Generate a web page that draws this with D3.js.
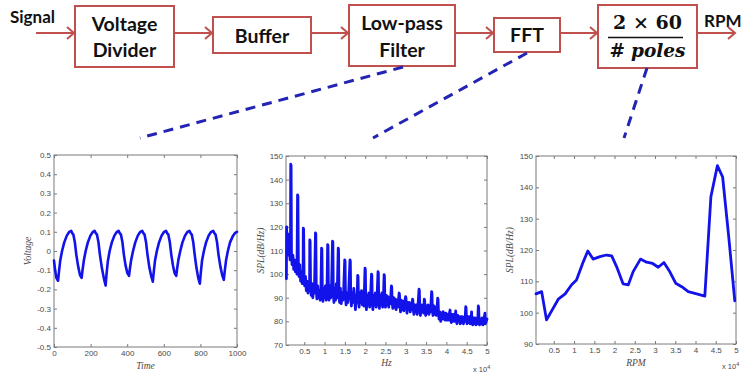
<!DOCTYPE html>
<html><head><meta charset="utf-8">
<script src="https://cdn.jsdelivr.net/npm/d3@7"></script>
<style>body{margin:0;background:#fff}svg{display:block}</style>
</head><body><svg id="c" width="748" height="375"></svg>
<script>
// ---------- Data ----------
const blockLabels = [["Voltage","Divider"],["Buffer"],["Low-pass","Filter"],["FFT"]];
const inputLabel = "Signal";
const outputLabel = "RPM";

const timeVals = [0,6,13,22,27,34,44,56,70,82,94,100,106,114,122,132,142,
 151,156,163,173,185,199,211,222,229,235,243,251,261,272,
 282,287,294,304,316,330,342,353,360,366,374,382,391,401,
 410,415,422,432,444,458,470,482,489,495,503,511,521,531,
 540,545,552,562,574,588,600,612,619,625,633,641,650,659,
 668,673,680,690,702,716,728,740,747,753,761,769,778,788,
 797,802,809,819,831,845,857,870,877,883,891,899,909,919,
 928,933,940,950,962,976,988,1000];
const voltageVals = [-0.05,-0.10,-0.14,-0.155,-0.11,-0.05,0.0,0.045,0.08,0.098,0.105,0.092,0.085,0.045,-0.02,-0.08,-0.125,
 -0.14,-0.10,-0.05,0.0,0.045,0.08,0.098,0.105,0.092,0.085,0.045,-0.02,-0.085,-0.14,
 -0.18,-0.12,-0.055,0.0,0.045,0.08,0.098,0.105,0.092,0.085,0.045,-0.02,-0.075,-0.115,
 -0.13,-0.09,-0.045,0.0,0.045,0.08,0.098,0.105,0.092,0.085,0.045,-0.02,-0.085,-0.13,
 -0.16,-0.11,-0.05,0.0,0.045,0.08,0.098,0.105,0.092,0.085,0.045,-0.02,-0.075,-0.115,
 -0.13,-0.09,-0.045,0.0,0.045,0.08,0.098,0.105,0.092,0.085,0.045,-0.02,-0.085,-0.14,
 -0.17,-0.115,-0.05,0.0,0.045,0.08,0.098,0.105,0.092,0.085,0.045,-0.02,-0.08,-0.125,
 -0.15,-0.105,-0.05,0.0,0.045,0.075,0.092,0.1];

// FFT spectrum: [Hz x 10^4, SPL dB/Hz]
const fftPoints = [
 [0.06,98],[0.065,120],[0.08,110],[0.10,117],[0.115,108],[0.13,112],[0.15,106],
 [0.16,110],[0.167,146.5],[0.175,146],[0.185,108],[0.20,104],[0.22,108],[0.24,102],[0.26,106],[0.28,101],[0.30,104],[0.32,100],
 [0.335,133.5],[0.343,133],[0.355,103],[0.37,99],[0.39,104],[0.41,97],[0.43,101],[0.45,96],[0.47,99],
 [0.476,119.5],[0.484,119],[0.495,100],[0.51,95],[0.53,99],[0.55,93],[0.57,97],[0.59,92],[0.61,96],[0.63,94],
 [0.636,114.5],[0.644,114],[0.655,95],[0.67,91],[0.69,96],[0.71,90],[0.73,94],[0.75,92],
 [0.776,117.5],[0.784,117],[0.795,94],[0.81,89.5],[0.83,95],[0.85,90],[0.87,93],[0.89,89],[0.91,94],
 [0.926,111],[0.934,110.5],[0.945,92],[0.96,88.5],[0.98,94],[1.00,90],[1.02,95],[1.04,89],[1.06,93],
 [1.076,112.5],[1.084,112],[1.095,93],[1.11,89],[1.13,95],[1.15,90],[1.17,93],
 [1.196,114],[1.204,113.5],[1.215,92],[1.23,88],[1.25,94],[1.27,89],[1.29,96],[1.31,90],
 [1.336,111],[1.344,110.5],[1.355,91],[1.37,88],[1.39,94],[1.41,87.5],[1.43,92],[1.45,89],[1.47,93],
 [1.496,106],[1.504,105.5],[1.515,90],[1.53,87],[1.55,92],[1.57,88],[1.59,91],
 [1.626,106],[1.634,105.5],[1.645,90],[1.66,86.5],[1.68,92],[1.70,88],[1.72,94],[1.74,90],[1.76,85],[1.78,91],[1.80,88],
 [1.816,99.5],[1.824,99],[1.835,89],[1.85,86],[1.87,92],[1.89,88],[1.91,93],[1.93,87],[1.95,91],[1.97,86.5],
 [1.996,102.5],[2.004,102],[2.015,88],[2.03,85],[2.05,91],[2.07,87],[2.09,92],[2.11,86],[2.13,90],
 [2.156,100],[2.164,99.5],[2.175,88],[2.19,85],[2.21,91],[2.23,87],[2.25,92],[2.27,86],[2.29,89],
 [2.316,101],[2.324,100.5],[2.335,88],[2.35,85.5],[2.37,91],[2.39,87],[2.41,92],[2.43,86],[2.45,90],
 [2.466,99.8],[2.474,99.3],[2.485,88],[2.50,86],[2.52,91],[2.54,87],[2.56,90.5],[2.58,86],[2.60,90],[2.62,87.5],
 [2.646,95],[2.654,94.5],[2.665,88],[2.68,85.5],[2.70,90],[2.72,86],[2.74,89.5],[2.76,85],[2.78,89],[2.80,86],[2.82,89],
 [2.836,92],[2.844,91.5],[2.855,87],[2.87,84],[2.89,89],[2.91,85],[2.93,88.5],[2.95,84.5],[2.97,88],
 [2.996,90.5],[3.004,90],[3.015,86],[3.03,83.5],[3.05,88],[3.07,85],[3.09,88],[3.11,84],[3.13,87.5],[3.15,85],
 [3.166,89.4],[3.174,89],[3.185,85],[3.20,83],[3.22,87],[3.24,84],[3.26,87],[3.28,83],[3.30,86.5],
 [3.326,93.6],[3.334,93],[3.345,85],[3.36,82.5],[3.38,87],[3.40,84],[3.42,87],[3.44,83.5],
 [3.456,89.4],[3.464,89],[3.475,85],[3.49,82.5],[3.51,86.5],[3.53,83.5],[3.55,87],[3.57,83],[3.59,86.5],[3.61,84],
 [3.636,92.6],[3.644,92],[3.655,85],[3.67,82.5],[3.69,86.5],[3.71,83],[3.73,86],[3.75,82.5],[3.77,86],
 [3.786,89.8],[3.794,89.3],[3.805,84],[3.82,81],[3.84,84],[3.86,80],[3.88,83.5],[3.90,81],
 [3.92,84.1],[3.93,81],[3.95,83.5],[3.97,80.5],[3.99,83.5],[4.01,80.5],[4.03,83],[4.05,80.5],[4.07,83],
 [4.09,84.8],[4.10,81],[4.12,79.5],[4.14,83],[4.16,80],[4.18,83],[4.20,80],
 [4.23,84.4],[4.24,80.5],[4.26,79],[4.28,82.5],[4.30,80],[4.32,82],[4.34,79],[4.36,82],[4.38,79.5],[4.40,82],[4.42,79],[4.44,81.5],[4.46,80],
 [4.476,86.2],[4.484,85.8],[4.495,80.5],[4.51,79],[4.53,82],[4.55,79.5],[4.57,82],[4.59,79],[4.61,81],
 [4.62,84],[4.63,80],[4.65,78.5],[4.67,81.5],[4.69,79],[4.71,81.5],[4.73,78.5],[4.75,81],[4.77,79],
 [4.786,86.5],[4.794,86],[4.805,80],[4.82,78.5],[4.84,81],[4.86,79],[4.88,81.5],[4.90,78.5],[4.92,80.5],
 [4.95,83.5],[4.96,79],[4.98,80],[5.0,81]
];

const rpmVals = [0.06,0.2,0.32,0.61,0.78,0.94,1.06,1.23,1.34,1.47,1.64,1.80,1.93,2.05,2.21,2.34,2.46,2.64,2.79,2.94,3.08,3.22,3.35,3.51,3.66,3.82,4.03,4.23,4.38,4.54,4.67,4.82,4.97];
const rpmSplVals = [106,106.7,97.7,104.3,106,108.9,110.4,116.3,119.7,117.1,117.9,118.4,118.1,114.7,109.2,108.9,113.1,117.1,116.1,115.7,114.5,116,113.4,109.4,108.3,106.7,106,105.3,137,146.9,143.3,124.3,103.8];

const timeTicks = [0,200,400,600,800,1000];
const voltTicks = [-0.5,-0.4,-0.3,-0.2,-0.1,0,0.1,0.2,0.3,0.4,0.5];
const voltTickLabels = ["-0.5","-0.4","-0.3","-0.2","-0.1","0","0.1","0.2","0.3","0.4","0.5"];
const e4Ticks = [0.5,1,1.5,2,2.5,3,3.5,4,4.5,5];
const fftTicks = [70,80,90,100,110,120,130,140,150];
const rpmSplTicks = [90,100,110,120,130,140,150];

// ---------- Drawing ----------
const svg = d3.select("#c");
const RED = "#C0504D", BLUE = "#1212ea", DASH = "#2323b4";
const SANS = "Lato, 'Open Sans', 'Liberation Sans', sans-serif";

// Block diagram
const boxes = [
 {x:75,y:6,w:99,h:61},
 {x:213,y:17,w:98,h:36},
 {x:349,y:5,w:106,h:61},
 {x:494,y:18,w:66,h:34},
 {x:598,y:5,w:99,h:63}
];
boxes.forEach(b=>{
  svg.append("rect").attr("x",b.x).attr("y",b.y).attr("width",b.w).attr("height",b.h)
   .attr("fill","#fff").attr("stroke",RED).attr("stroke-width",2);
});
const textLines = [[31,57],[43],[30,57],[42]];
blockLabels.forEach((lines,i)=>{
  const b = boxes[i];
  lines.forEach((t,j)=>{
    svg.append("text").attr("x",b.x+b.w/2).attr("y",textLines[i][j]).attr("text-anchor","middle")
     .attr("font-family",SANS).attr("font-weight","bold").attr("font-size",19.5).attr("fill","#111").text(t);
  });
});
// formula
const fb = boxes[4];
svg.append("text").attr("x",fb.x+fb.w/2).attr("y",29).attr("text-anchor","middle")
 .attr("font-family","'DejaVu Serif','Liberation Serif',serif").attr("font-weight","bold").attr("font-size",19).attr("fill","#111").text("2 × 60");
svg.append("line").attr("x1",608).attr("x2",683).attr("y1",37.5).attr("y2",37.5).attr("stroke","#111").attr("stroke-width",1.6);
svg.append("text").attr("x",fb.x+fb.w/2).attr("y",57).attr("text-anchor","middle")
 .attr("font-family","'DejaVu Serif','Liberation Serif',serif").attr("font-size",18.5).attr("fill","#111")
 .html('<tspan font-weight="bold">#</tspan> <tspan font-style="italic" font-weight="bold">poles</tspan>');

svg.append("text").attr("x",10).attr("y",23).attr("font-family",SANS).attr("font-weight","bold").attr("font-size",17).attr("fill","#111").text(inputLabel);
svg.append("text").attr("x",704).attr("y",27).attr("font-family",SANS).attr("font-weight","bold").attr("font-size",17).attr("fill","#111").text(outputLabel);

const arrows = [[36,75,33],[174,213,33],[311,349,33],[455,494,33],[560,598,33],[697,736,33]];
arrows.forEach(([x1,x2,y])=>{
  svg.append("line").attr("x1",x1).attr("x2",x2-1).attr("y1",y).attr("y2",y).attr("stroke",RED).attr("stroke-width",2);
  svg.append("path").attr("d",`M${x2-8},${y-6}L${x2-1},${y}L${x2-8},${y+6}`).attr("fill","none").attr("stroke",RED).attr("stroke-width",2);
});

// dashed leader lines
const leaders = [[403,67,140,138],[527,53,373,138],[647,68,624,138]];
leaders.forEach(([x1,y1,x2,y2])=>{
  svg.append("line").attr("x1",x1).attr("y1",y1).attr("x2",x2).attr("y2",y2)
   .attr("stroke",DASH).attr("stroke-width",3).attr("stroke-dasharray","10 7");
});

// charts
function chart(o){
  const g = svg.append("g");
  const x = d3.scaleLinear().domain(o.xd).range([o.x0,o.x1]);
  const y = d3.scaleLinear().domain(o.yd).range([o.y1,o.y0]);
  g.append("rect").attr("x",o.x0).attr("y",o.y0).attr("width",o.x1-o.x0).attr("height",o.y1-o.y0)
    .attr("fill","#fff").attr("stroke","#7a7a7a").attr("stroke-width",1);
  const style = a=>{a.select(".domain").remove(); a.selectAll("line").attr("stroke","#7a7a7a");
    a.selectAll("text").attr("font-family","'Liberation Sans',Arial,sans-serif").attr("font-size",8).attr("fill","#4a4a4a");};
  const xf = o.xfmt || (d=>String(d));
  const yf = o.yfmt || (d=>String(d));
  g.append("g").attr("transform",`translate(0,${o.y1})`).call(d3.axisBottom(x).tickValues(o.xt).tickSize(-3).tickPadding(3).tickFormat(xf)).call(style);
  g.append("g").attr("transform",`translate(0,${o.y0})`).call(d3.axisTop(x).tickValues(o.xt).tickSize(-3).tickFormat("")).call(style);
  g.append("g").attr("transform",`translate(${o.x0},0)`).call(d3.axisLeft(y).tickValues(o.yt).tickSize(-3).tickPadding(3).tickFormat(yf)).call(style);
  g.append("g").attr("transform",`translate(${o.x1},0)`).call(d3.axisRight(y).tickValues(o.yt).tickSize(-3).tickFormat("")).call(style);
  const line = d3.line().x(d=>x(d[0])).y(d=>y(d[1]));
  g.append("path").datum(o.pts).attr("d",line).attr("fill","none").attr("stroke",BLUE)
   .attr("stroke-width",o.sw||2.5).attr("stroke-linejoin","round").attr("stroke-linecap","round");
  const serif = "'Liberation Serif','DejaVu Serif',serif";
  g.append("text").attr("x",(o.x0+o.x1)/2).attr("y",o.xly).attr("text-anchor","middle")
   .attr("font-family",serif).attr("font-style","italic").attr("font-size",9.5).attr("fill","#4a4a4a").text(o.xl);
  g.append("text").attr("transform",`translate(${o.ylx},${(o.y0+o.y1)/2}) rotate(-90)`).attr("text-anchor","middle")
   .attr("font-family",serif).attr("font-style","italic").attr("font-size",9.5).attr("fill","#4a4a4a").text(o.yl);
  if(o.exp){
    g.append("text").attr("x",o.exp[0]).attr("y",o.exp[1]).attr("font-family","'Liberation Sans',Arial,sans-serif")
     .attr("font-size",7.5).attr("fill","#4a4a4a").html('x 10<tspan dy="-3" font-size="5.5">4</tspan>');
  }
}

chart({x0:54,x1:237,y0:155,y1:347,xd:[0,1000],yd:[-0.5,0.5],xt:timeTicks,yt:voltTicks,
  yfmt:(d,i)=>voltTickLabels[i], pts:timeVals.map((t,i)=>[t,voltageVals[i]]),
  xl:"Time",yl:"Voltage",xly:369,ylx:31,sw:2.6});
chart({x0:286,x1:487,y0:156,y1:345,xd:[0.05,5],yd:[70,150],xt:e4Ticks,yt:fftTicks,
  pts:fftPoints,xl:"Hz",yl:"SPL(dB/Hz)",xly:366,ylx:264,exp:[473,372],sw:2.8});
chart({x0:536,x1:736,y0:156,y1:344,xd:[0.06,5],yd:[90,150],xt:e4Ticks,yt:rpmSplTicks,
  pts:rpmVals.map((r,i)=>[r,rpmSplVals[i]]),xl:"RPM",yl:"SPL(dB/Hz)",xly:366,ylx:513,exp:[722,369],sw:2.8});
</script></body></html>
